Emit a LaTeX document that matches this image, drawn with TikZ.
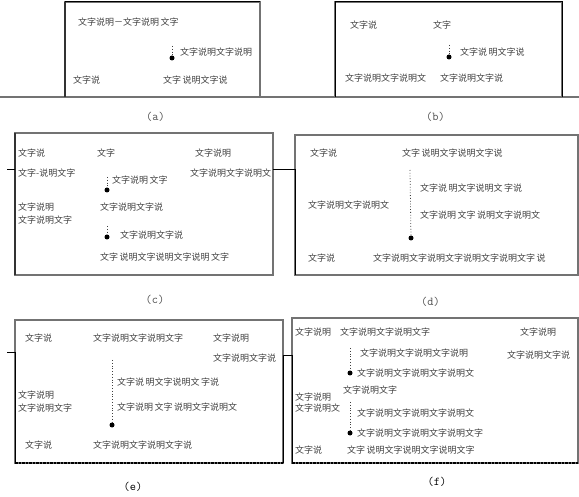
\documentclass[tikz,border=0pt]{standalone}
\usepackage{fontspec}
\newfontfamily\cjk{Noto Sans CJK SC}
\usetikzlibrary{positioning}

\begin{document}
\begin{tikzpicture}[
    x=1pt, y=-1pt,
    frame/.style={draw=black!55, line width=1.5pt, inner sep=0pt, outer sep=0pt},
    solid edge/.style={draw=black, line width=1pt},
    dash edge/.style={draw=black, line width=1.3pt, dash pattern=on 2.5pt off 1pt},
    txt/.style={anchor=west, inner sep=0pt, font=\cjk\fontsize{9}{10}\selectfont, text=black!75},
    caption/.style={font=\ttfamily\fontsize{12}{13}\selectfont},
    link/.style={draw=black!75, line width=0.8pt, dotted},
    dot/.style={circle, fill=black, inner sep=0pt, minimum size=5pt}
  ]
  \useasboundingbox (0,0) rectangle (579,497);

  % frames
  \node[frame, minimum width=195pt, minimum height=95pt] (boxa) at (162.5,49.5) {};
  \node[frame, minimum width=227pt, minimum height=95pt] (boxb) at (448.5,49.5) {};
  \node[frame, minimum width=258pt, minimum height=142pt] (boxc) at (144,204) {};
  \node[frame, minimum width=283pt, minimum height=140pt] (boxd) at (436.5,205) {};
  \node[frame, minimum width=268pt, minimum height=143pt] (boxe) at (149,391.5) {};
  \node[frame, minimum width=286pt, minimum height=145pt] (boxf) at (435,390.5) {};

  \coordinate (sepl) at (0,97);
  \coordinate (sepr) at (579,97);
  \draw[frame] (sepl) -- (sepr);

  \draw[solid edge] (boxa.north west) -- (boxa.north east);
  \draw[frame, draw=black!80] (boxa.north west) -- (boxa.south west);
  \draw[frame, draw=black!80] (boxc.north west) -- (boxc.south west);
  \draw[solid edge] (boxb.south west) -- (boxb.north west) -- (boxb.north east) -- (boxb.south east);

  % links between frames
  \coordinate (cin) at (7,170);
  \coordinate (dlink) at (295,170);
  \coordinate (ein) at (7,353);
  \coordinate (flink) at (292,356);
  \draw[solid edge] (cin) -- (cin -| boxc.west);
  \draw[solid edge] (boxc.east |- dlink) -- (dlink) -- (boxd.south west);
  \draw[solid edge] (ein) -- (ein -| boxe.west) -- (boxe.south west);
  \draw[solid edge] (boxe.south east) -- (boxe.east |- flink) -- (flink) -- (boxf.south west);
  \draw[dash edge] (boxe.south west) -- (boxe.south east);
  \draw[dash edge] (boxf.south west) -- (boxf.south east);

  % (a)
  \node[txt] (a1) at (78,22) {文字说明－文字说明\,文字};
  \node[dot] (adot) at (172,58) {};
  \coordinate (atop) at (172,46);
  \node[txt] (a2) at (180,52) {文字说明文字说明};
  \node[txt] (a3) at (73,80) {文字说};
  \node[txt] (a4) at (163,80) {文字\,说明文字说};
  \draw[link] (atop) -- (adot);

  % (b)
  \node[txt] (b1) at (350,25) {文字说};
  \node[txt] (b2) at (433,25) {文字};
  \node[dot] (bdot) at (449,57) {};
  \coordinate (btop) at (449,45);
  \node[txt] (b3) at (460,52) {文字说\,明文字说};
  \node[txt] (b4) at (345,78) {文字说明文字说明文};
  \node[txt] (b5) at (440,78) {文字说明文字说};
  \draw[link] (btop) -- (bdot);

  % (c)
  \node[txt] (c11) at (18,153) {文字说};
  \node[txt] (c12) at (97,153) {文字};
  \node[txt] (c13) at (195,153) {文字说明};
  \node[txt] (c21) at (18,173) {文字-说明文字};
  \node[txt] (c22) at (112,180) {文字说明\,文字};
  \node[txt] (c23) at (190,173) {文字说明文字说明文};
  \node[dot] (cdot1) at (107,190) {};
  \coordinate (ctop1) at (107,177);
  \node[txt] (c31) at (18,207) {文字说明};
  \node[txt] (c32) at (18,220) {文字说明文字};
  \node[txt] (c33) at (100,207) {文字说明文字说};
  \node[dot] (cdot2) at (107,237) {};
  \coordinate (ctop2) at (107,226);
  \node[txt] (c34) at (120,235) {文字说明文字说};
  \node[txt] (c41) at (100,257) {文字\,说明文字说明文字说明\,文字};
  \draw[link] (ctop1) -- (cdot1);
  \draw[link] (ctop2) -- (cdot2);

  % (d)
  \node[txt] (d11) at (310,153) {文字说};
  \node[txt] (d12) at (402,153) {文字\,说明文字说明文字说};
  \coordinate (dtop) at (410,170);
  \node[dot] (ddot) at (411,238) {};
  \node[txt] (d21) at (420,188) {文字说\,明文字说明文\,字说};
  \node[txt] (d22) at (420,215) {文字说明\,文字\,说明文字说明文};
  \node[txt] (d23) at (308,205) {文字说明文字说明文};
  \node[txt] (d31) at (308,258) {文字说};
  \node[txt] (d32) at (373,258) {文字说明文字说明文字说明文字说明文字\,说};
  \draw[link] (dtop) -- (ddot);

  % (e)
  \node[txt] (e11) at (25,338) {文字说};
  \node[txt] (e12) at (93,338) {文字说明文字说明文字};
  \node[txt] (e13) at (213,338) {文字说明};
  \node[txt] (e14) at (213,358) {文字说明文字说};
  \coordinate (etop) at (112,360);
  \node[dot] (edot) at (112,425) {};
  \node[txt] (e21) at (117,382) {文字说\,明文字说明文\,字说};
  \node[txt] (e22) at (117,407) {文字说明\,文字\,说明文字说明文};
  \node[txt] (e23) at (18,395) {文字说明};
  \node[txt] (e24) at (18,408) {文字说明文字};
  \node[txt] (e31) at (25,445) {文字说};
  \node[txt] (e32) at (93,445) {文字说明文字说明文字说};
  \draw[link] (etop) -- (edot);

  % (f)
  \node[txt] (f11) at (295,332) {文字说明};
  \node[txt] (f12) at (340,332) {文字说明文字说明文字};
  \node[txt] (f13) at (520,332) {文字说明};
  \node[txt] (f14) at (507,355) {文字说明文字说};
  \coordinate (ftop1) at (350,348);
  \node[dot] (fdot1) at (350,373) {};
  \node[txt] (f21) at (360,353) {文字说明文字说明文字说明};
  \node[txt] (f22) at (357,373) {文字说明文字说明文字说明文};
  \node[txt] (f23) at (343,390) {文字说明文字};
  \node[txt] (f24) at (295,397) {文字说明};
  \node[txt] (f25) at (295,408) {文字说明文};
  \coordinate (ftop2) at (350,402);
  \node[dot] (fdot2) at (350,433) {};
  \node[txt] (f26) at (357,413) {文字说明文字说明文字说明文};
  \node[txt] (f27) at (357,433) {文字说明文字说明文字说明文字};
  \node[txt] (f31) at (295,450) {文字说};
  \node[txt] (f32) at (347,450) {文字\,说明文字说明文字说明文字};
  \draw[link] (ftop1) -- (fdot1);
  \draw[link] (ftop2) -- (fdot2);

  % captions
  \node[caption, text=black!70, below=12pt of boxa, xshift=-7pt] (capa) {(a)};
  \node[caption, text=black!70, below=12pt of boxb, xshift=-13pt] (capb) {(b)};
  \node[caption, text=black!70, below=17pt of boxc, xshift=11pt] (capc) {(c)};
  \node[caption, text=black!70, below=19pt of boxd, xshift=-6pt] (capd) {(d)};
  \node[caption, below=16pt of boxe, xshift=-16pt] (cape) {(e)};
  \node[caption, below=11pt of boxf, xshift=2pt] (capf) {(f)};
\end{tikzpicture}
\end{document}
